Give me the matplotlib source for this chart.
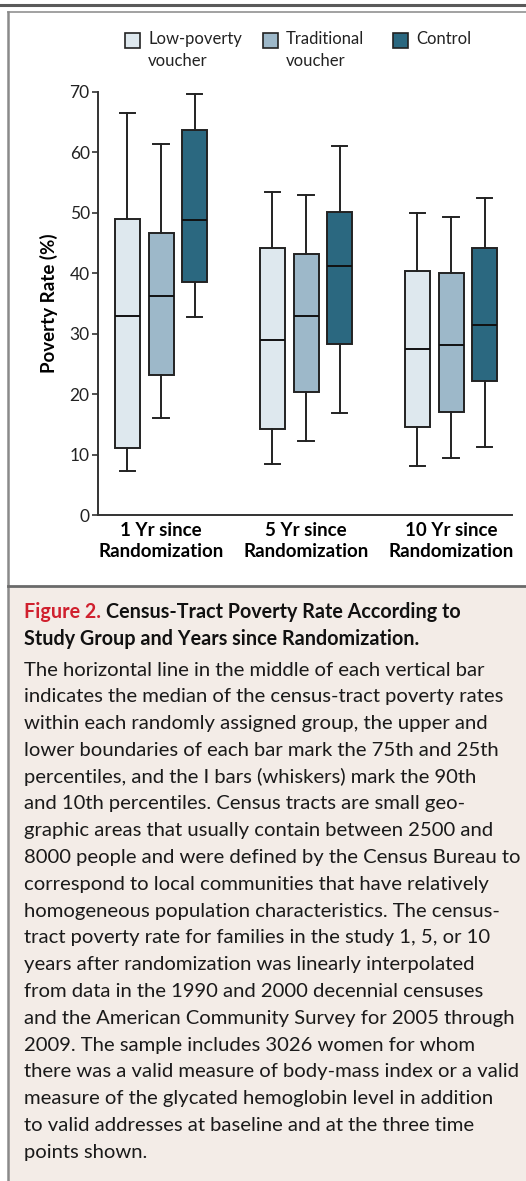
import numpy as np
import matplotlib

matplotlib.use("Agg")
import matplotlib.pyplot as plt
from matplotlib.patches import Rectangle
from matplotlib.lines import Line2D

W, H = 526, 1181
FONT = "Lato"
plt.rcParams.update({"font.family": FONT, "font.size": 11})

periods = ["1 Yr since\nRandomization", "5 Yr since\nRandomization", "10 Yr since\nRandomization"]
groups = ["Low-poverty\nvoucher", "Traditional\nvoucher", "Control"]
colors = ["#DEE8EE", "#9DB8C9", "#2B6880"]

# rows = group (low-poverty, traditional, control), cols = 1, 5, 10 yr
p90 = [[66.5, 53.4, 49.9], [61.3, 52.9, 49.2], [69.7, 61.0, 52.5]]
p75 = [[48.9, 44.1, 40.4], [46.7, 43.1, 40.0], [63.6, 50.1, 44.1]]
p50 = [[32.9, 29.0, 27.5], [36.2, 32.9, 28.1], [48.8, 41.2, 31.5]]
p25 = [[11.1, 14.3, 14.5], [23.1, 20.4, 17.0], [38.6, 28.2, 22.1]]
p10 = [[7.3, 8.4, 8.1], [16.0, 12.2, 9.5], [32.7, 16.9, 11.3]]

yticks = [0, 10, 20, 30, 40, 50, 60, 70]

title_lines = ["Census-Tract Poverty Rate According to",
               "Study Group and Years since Randomization."]
caption_lines = [
    "The horizontal line in the middle of each vertical bar",
    "indicates the median of the census-tract poverty rates",
    "within each randomly assigned group, the upper and",
    "lower boundaries of each bar mark the 75th and 25th",
    "percentiles, and the I bars (whiskers) mark the 90th",
    "and 10th percentiles. Census tracts are small geo-",
    "graphic areas that usually contain between 2500 and",
    "8000 people and were defined by the Census Bureau to",
    "correspond to local communities that have relatively",
    "homogeneous population characteristics. The census-",
    "tract poverty rate for families in the study 1, 5, or 10",
    "years after randomization was linearly interpolated",
    "from data in the 1990 and 2000 decennial censuses",
    "and the American Community Survey for 2005 through",
    "2009. The sample includes 3026 women for whom",
    "there was a valid measure of body-mass index or a valid",
    "measure of the glycated hemoglobin level in addition",
    "to valid addresses at baseline and at the three time",
    "points shown.",
]


def fx(x):
    return x / W


def fy(y):
    return 1 - y / H


fig = plt.figure(figsize=(W / 100, H / 100), dpi=100)

# frame and caption panel
fig.patches.append(Rectangle((fx(8), 0), 1, fy(586), transform=fig.transFigure,
                             fc="#F3ECE7", ec="none", zorder=0))
for xs, ys, c, lw in [([0, 1], [fy(5), fy(5)], "#5A5A5A", 2.2),
                      ([fx(8), 1], [fy(11.5), fy(11.5)], "#9A9A9A", 1.3),
                      ([fx(8), fx(8)], [0, fy(11.5)], "#8A8A8A", 1.8),
                      ([fx(8), 1], [fy(586), fy(586)], "#6A6A6A", 2.0)]:
    fig.add_artist(Line2D(xs, ys, transform=fig.transFigure, color=c, lw=lw))

ax = fig.add_axes([fx(98), fy(515), fx(512) - fx(98), fy(91.7) - fy(515)])
offsets = [-0.232, 0.0, 0.232]
for g in range(3):
    stats = [dict(whislo=p10[g][k], q1=p25[g][k], med=p50[g][k], q3=p75[g][k],
                  whishi=p90[g][k], fliers=[]) for k in range(3)]
    ax.bxp(stats, positions=np.arange(3) + offsets[g], widths=0.172, capwidths=0.105,
           patch_artist=True, showfliers=False,
           boxprops=dict(facecolor=colors[g], edgecolor="#222222", lw=1.4),
           medianprops=dict(color="#111111", lw=1.4),
           whiskerprops=dict(color="#222222", lw=1.4),
           capprops=dict(color="#222222", lw=1.4))

ax.set_xlim(-0.435, 2.42)
ax.set_ylim(0, 70)
ax.set_yticks(yticks)
ax.set_yticklabels([str(v) for v in yticks], fontsize=12.5, color="#222222")
ax.set_xticks(range(3))
ax.set_xticklabels(periods, fontsize=13.5, fontweight="bold", linespacing=1.3)
ax.tick_params(axis="x", length=0, pad=5)
ax.tick_params(axis="y", length=4, width=1.2, color="#333333", pad=2)
for s in ["top", "right"]:
    ax.spines[s].set_visible(False)
for s in ["left", "bottom"]:
    ax.spines[s].set_linewidth(1.4)
    ax.spines[s].set_color("#333333")
ax.set_ylabel("Poverty Rate (%)", fontsize=13.5, fontweight="bold", labelpad=8)

# legend, drawn by hand so the swatch sits on the first line
for i, (lab, x0) in enumerate(zip(groups, [125, 263, 393])):
    fig.patches.append(Rectangle((fx(x0), fy(47.5)), fx(15), fy(33) - fy(47.5),
                                 transform=fig.transFigure, fc=colors[i],
                                 ec="#222222", lw=1.2))
    fig.text(fx(x0 + 23), fy(31), lab, fontsize=12, va="top", ha="left",
             linespacing=1.45, color="#222222")

# caption
r = fig.canvas.get_renderer()
t = fig.text(fx(24), fy(612), "Figure 2.", fontsize=14.2, fontweight="bold",
             color="#D0202E", va="center")
bb = t.get_window_extent(r)
fig.text(bb.x1 / W + fx(5), fy(612), title_lines[0], fontsize=14.2,
         fontweight="bold", color="#111111", va="center")
fig.text(fx(24), fy(639), title_lines[1], fontsize=14.2, fontweight="bold",
         color="#111111", va="center")
for i, line in enumerate(caption_lines):
    fig.text(fx(24), fy(670 + 26.8 * i), line, fontsize=14.6, color="#1A1A1A",
             va="center")

fig.savefig("out.png", dpi=100)
